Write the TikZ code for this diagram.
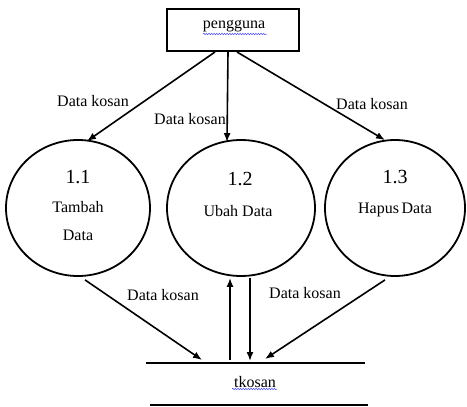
\documentclass[tikz,border=0pt]{standalone}
\usepackage{fontspec}
\setmainfont{Liberation Serif}
\usetikzlibrary{arrows.meta,shapes.geometric,decorations.pathmorphing}
\definecolor{squig}{RGB}{70,70,220}
\tikzset{
  proc/.style={draw, ellipse, line width=1.8pt, inner sep=0pt},
  ent/.style={draw, rectangle, line width=2pt, minimum width=132pt, minimum height=42pt, inner sep=0pt},
  arr/.style={line width=1.6pt, -{Latex[length=9pt,width=7pt]}},
  lbl/.style={font=\fontsize{16}{18}\selectfont, inner sep=0pt},
  num/.style={font=\fontsize{20}{22}\selectfont, inner sep=0pt},
  storeline/.style={line width=2pt},
  wavy/.style={draw=squig, line width=0.5pt, decorate, decoration={snake, amplitude=0.7pt, segment length=2.6pt}}
}
\begin{document}
\begin{tikzpicture}[x=1pt,y=-1pt]
\useasboundingbox (0,0) rectangle (467,407);
% entity
\node[ent] (user) at (233,30) {};
\node[lbl] (usert) at (234,26) {pengguna};
\draw[wavy] (203,34) -- (267,34);
% processes
\node[proc, minimum width=144pt, minimum height=136pt] (e1) at (78,208) {};
\node[proc, minimum width=148pt, minimum height=136pt] (e2) at (241,208) {};
\node[proc, minimum width=140pt, minimum height=136pt] (e3) at (395,208) {};
\node[num] (n1) at (78,177) {1.1};
\node[lbl] (t1a) at (78,207) {Tambah};
\node[lbl] (t1b) at (78,235) {Data};
\node[num] (n2) at (240,179) {1.2};
\node[lbl] (t2) at (238,211) {Ubah Data};
\node[num] (n3) at (395,177) {1.3};
\node[lbl] (t3) at (395,210) {Hapus\,Data};
% store
\coordinate (stl) at (146,363);
\coordinate (str) at (365,363);
\coordinate (sbl) at (150,405);
\coordinate (sbr) at (368,405);
\draw[storeline] (stl) -- (str);
\draw[storeline] (sbl) -- (sbr);
\node[lbl] (store) at (255,382) {tkosan};
\draw[wavy] (232,389) -- (277,389);
\coordinate (in1) at (202,360);
\coordinate (up0) at (230,360);
\coordinate (dn1) at (250,361);
\coordinate (in3) at (265,359);
% arrows from user
\draw[arr] ([xshift=-18pt]user.south) -- ([xshift=9pt,yshift=-2pt]e1.north);
\draw[arr] ([xshift=-5pt]user.south) -- ([xshift=-14pt,yshift=-3pt]e2.north);
\draw[arr] ([xshift=4pt]user.south) -- ([xshift=-10pt,yshift=-1pt]e3.north);
\node[lbl] (l1) at (93,101) {Data kosan};
\node[lbl] (l2) at (190,119) {Data kosan};
\node[lbl] (l3) at (372,104) {Data kosan};
% arrows to store
\draw[arr] ([xshift=7pt,yshift=-3pt]e1.south) -- (in1);
\draw[arr] (up0) -- ([xshift=-11pt,yshift=-1pt]e2.south);
\draw[arr] ([xshift=9pt,yshift=-1pt]e2.south) -- (dn1);
\draw[arr] ([xshift=-10pt,yshift=-3pt]e3.south) -- (in3);
\node[lbl] (l4) at (163,295) {Data kosan};
\node[lbl] (l5) at (305,293) {Data kosan};
\end{tikzpicture}
\end{document}
